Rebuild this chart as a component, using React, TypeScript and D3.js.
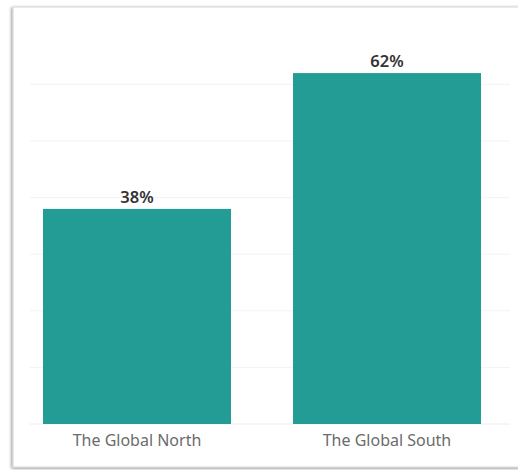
import React from "react";
import * as d3 from "d3";

const categories = ["The Global North", "The Global South"];
const shares = [0.38, 0.62];
const gridTicks = [0, 0.1, 0.2, 0.3, 0.4, 0.5, 0.6];

const W = 518;
const H = 470;

export default function App() {
  const x = d3.scaleBand<string>().domain(categories).range([43, 481]).paddingInner(0.248).paddingOuter(0);
  const y = d3.scaleLinear().domain([0, 0.7]).range([424, 27.8]);
  const fmt = d3.format(".0%");
  return (
    <svg width={W} height={H} style={{ position: "absolute", left: 0, top: 0, display: "block" }}>
      <defs>
        <filter id="sh" x="-5%" y="-5%" width="110%" height="110%">
          <feDropShadow dx="-1" dy="1" stdDeviation="1.5" floodColor="#000" floodOpacity="0.45" />
        </filter>
      </defs>
      <rect x={0} y={0} width={W} height={H} fill="#ffffff" />
      <rect x={13} y={7} width={520} height={460} fill="#ffffff" stroke="#d6d6d6" strokeWidth={1} filter="url(#sh)" />
      {gridTicks.map((t) => (
        <line key={t} x1={30} x2={510} y1={y(t)} y2={y(t)} stroke={t === 0 ? "#ececec" : "#f3f3f3"} strokeWidth={1} />
      ))}
      {categories.map((c, i) => (
        <g key={c}>
          <rect x={x(c)} y={y(shares[i])} width={x.bandwidth()} height={y(0) - y(shares[i])} fill="#249c96" />
          <text
            x={(x(c) as number) + x.bandwidth() / 2}
            y={y(shares[i]) - 6}
            textAnchor="middle"
            fontFamily="'Noto Sans', sans-serif"
            fontSize={16.5}
            fontWeight={600}
            fill="#333333"
          >
            {fmt(shares[i])}
          </text>
          <text
            x={(x(c) as number) + x.bandwidth() / 2}
            y={446}
            textAnchor="middle"
            fontFamily="'Noto Sans', sans-serif"
            fontSize={16}
            fill="#6b6b6b"
          >
            {c}
          </text>
        </g>
      ))}
    </svg>
  );
}
